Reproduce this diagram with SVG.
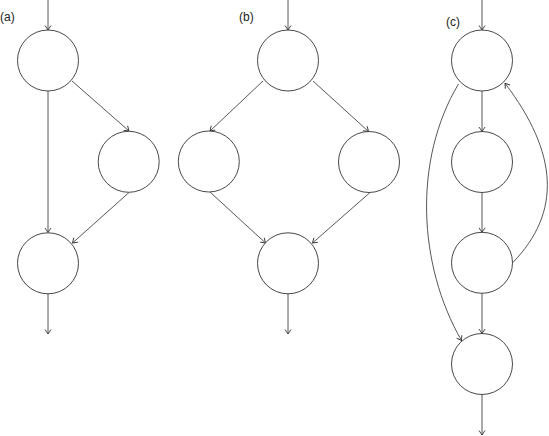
<svg xmlns="http://www.w3.org/2000/svg" width="549" height="436" viewBox="0 0 549 436">
<style>
.n{fill:#fff;stroke:#333;stroke-width:0.9}
.e{fill:none;stroke:#444;stroke-width:0.9;marker-end:url(#ar)}
.l{font-family:"Liberation Sans",Arial,sans-serif;font-size:12px;fill:#222}
</style>
<defs>
<marker id="ar" viewBox="-6 -4 7 8" refX="0" refY="0" markerWidth="7" markerHeight="8" markerUnits="userSpaceOnUse" orient="auto">
<path d="M-4.5,-3 L0,0 L-4.5,3" fill="none" stroke="#333" stroke-width="0.9"/>
</marker>
</defs>
<rect width="549" height="436" fill="#fff"/>
<g id="labels">
<text class="l" x="0" y="21">(a)</text>
<text class="l" x="239" y="21">(b)</text>
<text class="l" x="446" y="25.5">(c)</text>
</g>
<g id="connectors">
<line class="e" x1="48" y1="0" x2="48" y2="30"/>
<line class="e" x1="48" y1="91" x2="48" y2="232.5"/>
<line class="e" x1="72" y1="81" x2="129" y2="131"/>
<line class="e" x1="129" y1="192.5" x2="72.5" y2="243"/>
<line class="e" x1="48" y1="294" x2="48" y2="334"/>
<line class="e" x1="288" y1="0" x2="288" y2="30"/>
<line class="e" x1="263" y1="81" x2="210" y2="131"/>
<line class="e" x1="313" y1="81" x2="368.5" y2="131.5"/>
<line class="e" x1="210" y1="192" x2="265.5" y2="243"/>
<line class="e" x1="370" y1="192.5" x2="312.5" y2="243"/>
<line class="e" x1="288" y1="294" x2="288" y2="334"/>
<line class="e" x1="482" y1="0" x2="482" y2="30"/>
<line class="e" x1="482" y1="91" x2="482" y2="131.5"/>
<line class="e" x1="482" y1="192.5" x2="482" y2="232.3"/>
<line class="e" x1="482" y1="293.3" x2="482" y2="333.5"/>
<line class="e" x1="482" y1="394.5" x2="482" y2="435"/>
<path class="e" d="M458.5,84 C413,160 418,265 461.5,340.5"/>
<path class="e" d="M512.7,262.7 C562,212 558,153 505,83.3"/>
</g>
<g id="a1"><circle class="n" cx="48" cy="60.5" r="30.5"/></g>
<g id="a2"><circle class="n" cx="128.7" cy="161.8" r="30.5"/></g>
<g id="a3"><circle class="n" cx="48" cy="263.3" r="30.5"/></g>
<g id="b1"><circle class="n" cx="288" cy="60.5" r="30.5"/></g>
<g id="b2"><circle class="n" cx="208.8" cy="161.5" r="30.5"/></g>
<g id="b3"><circle class="n" cx="369" cy="162" r="30.5"/></g>
<g id="b4"><circle class="n" cx="288" cy="263.3" r="30.5"/></g>
<g id="c1"><circle class="n" cx="482" cy="60.5" r="30.5"/></g>
<g id="c2"><circle class="n" cx="482" cy="162" r="30.5"/></g>
<g id="c3"><circle class="n" cx="482" cy="262.8" r="30.5"/></g>
<g id="c4"><circle class="n" cx="482" cy="364" r="30.5"/></g>
</svg>
